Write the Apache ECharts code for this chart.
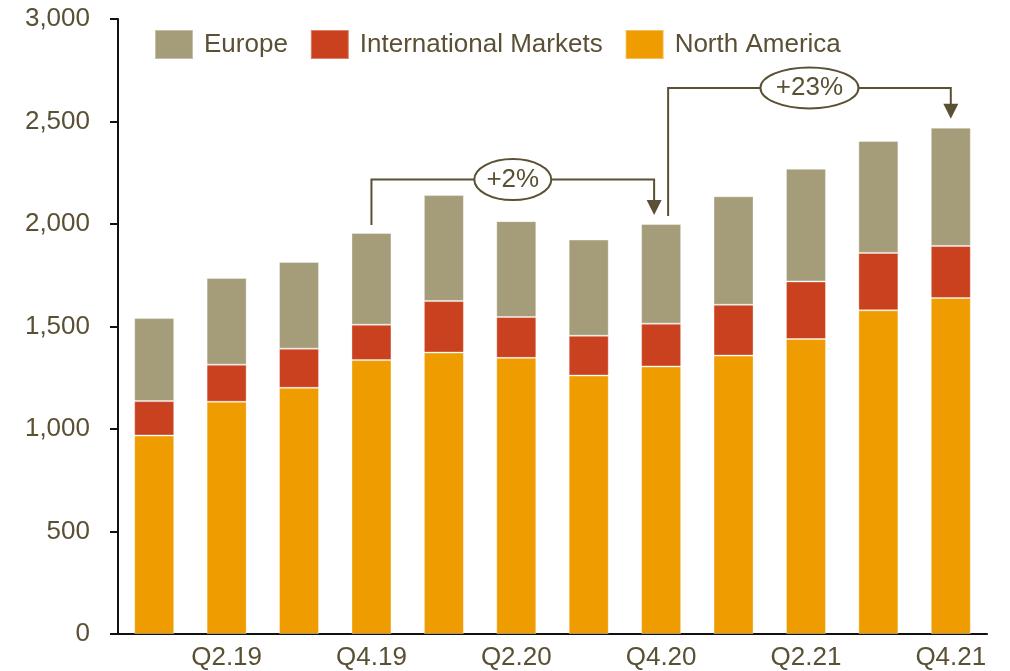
<!DOCTYPE html>
<html>
<head>
<meta charset="utf-8">
<script src="https://cdn.jsdelivr.net/npm/echarts@6/dist/echarts.min.js"></script>
<style>
  html, body { margin: 0; padding: 0; background: #fff; }
  #main { width: 1010px; height: 671px; }
</style>
</head>
<body>
<div id="main"></div>
<script>
// quarterly values
var quarters = ['Q1.19', 'Q2.19', 'Q3.19', 'Q4.19', 'Q1.20', 'Q2.20', 'Q3.20', 'Q4.20', 'Q1.21', 'Q2.21', 'Q3.21', 'Q4.21'];
var northAmerica = [968, 1133, 1201, 1336, 1373, 1347, 1261, 1305, 1358, 1439, 1579, 1639];
var international = [168, 181, 191, 173, 251, 199, 194, 209, 248, 281, 280, 254];
var europe = [405, 423, 423, 447, 517, 468, 469, 486, 529, 549, 546, 577];
var yTicks = [0, 500, 1000, 1500, 2000, 2500, 3000];

// growth brackets: from bar index, to bar index, bracket level (value), label
var growthFrom = [3, 7];
var growthTo = [7, 11];
var growthLevel = [2217, 2664];
var growthLabel = ['+2%', '+23%'];

var textColor = '#5a5034';
var lineColor = '#5a5034';
var font = '"Liberation Sans", Arial, sans-serif';

var chart = echarts.init(document.getElementById('main'));

function barSeries(name, data, color) {
  return {
    name: name,
    type: 'bar',
    stack: 'total',
    barWidth: 40,
    data: data,
    itemStyle: { color: color, borderColor: 'rgba(255,255,255,0.35)', borderWidth: 1 },
    emphasis: { disabled: true }
  };
}

var option = {
  animation: false,
  textStyle: { fontFamily: font },
  grid: { left: 118, right: 23, top: 19, bottom: 36, containLabel: false },
  legend: {
    data: ['Europe', 'International Markets', 'North America'],
    left: 149,
    top: 24,
    itemWidth: 38,
    itemHeight: 29,
    itemGap: 22,
    icon: 'rect',
    textStyle: { color: textColor, fontSize: 26, fontFamily: font, padding: [0, 0, 0, 6] }
  },
  xAxis: {
    type: 'category',
    data: quarters,
    axisLine: { lineStyle: { color: '#111', width: 2 } },
    axisTick: { show: false },
    axisLabel: {
      color: textColor,
      fontSize: 26,
      fontFamily: font,
      margin: 11,
      interval: function (idx) { return idx % 2 === 1; }
    }
  },
  yAxis: {
    type: 'value',
    min: yTicks[0],
    max: yTicks[yTicks.length - 1],
    interval: yTicks[1] - yTicks[0],
    splitLine: { show: false },
    axisLine: { show: true, lineStyle: { color: '#111', width: 2 } },
    axisTick: { show: true, length: 8, lineStyle: { color: '#111', width: 2 } },
    axisLabel: {
      color: textColor,
      fontSize: 26,
      fontFamily: font,
      margin: 28,
      formatter: function (v) { return v.toLocaleString('en-US'); }
    }
  },
  series: [
    barSeries('North America', northAmerica, '#ee9c00'),
    barSeries('International Markets', international, '#c9411e'),
    barSeries('Europe', europe, '#a59d7a')
  ]
};

chart.setOption(option);

// draw the growth brackets from the axis scales
function total(i) { return northAmerica[i] + international[i] + europe[i]; }

var graphics = [];
for (var k = 0; k < growthFrom.length; k++) {
  var a = growthFrom[k], b = growthTo[k];
  var pa = chart.convertToPixel({ gridIndex: 0 }, [a, total(a)]);
  var pb = chart.convertToPixel({ gridIndex: 0 }, [b, total(b)]);
  var lv = chart.convertToPixel({ gridIndex: 0 }, [a, growthLevel[k]])[1];
  var xa = pa[0], xb = pb[0];
  // brackets sharing a bar are nudged apart
  if (k > 0 && growthFrom[k] === growthTo[k - 1]) xa += 7;
  if (k < growthFrom.length - 1 && growthTo[k] === growthFrom[k + 1]) xb -= 7;
  var startY = pa[1] - 8;
  var tipY = pb[1] - 9;
  graphics.push({
    type: 'polyline',
    shape: { points: [[xa, startY], [xa, lv], [xb, lv], [xb, tipY - 12]] },
    style: { stroke: lineColor, lineWidth: 2, fill: null },
    z: 10
  });
  graphics.push({
    type: 'polygon',
    shape: { points: [[xb - 7.5, tipY - 15], [xb + 7.5, tipY - 15], [xb, tipY]] },
    style: { fill: lineColor },
    z: 10
  });
  var cx = (xa + xb) / 2;
  var rx = growthLabel[k].length > 3 ? 49 : 38.5;
  graphics.push({
    type: 'ellipse',
    shape: { cx: cx, cy: lv, rx: rx, ry: 20.5 },
    style: { fill: '#fff', stroke: lineColor, lineWidth: 2 },
    z: 11
  });
  graphics.push({
    type: 'text',
    x: cx,
    y: lv,
    style: {
      text: growthLabel[k],
      fill: textColor,
      font: '26px ' + font,
      align: 'center',
      verticalAlign: 'middle'
    },
    z: 12
  });
}
chart.setOption({ graphic: graphics });
</script>
</body>
</html>
